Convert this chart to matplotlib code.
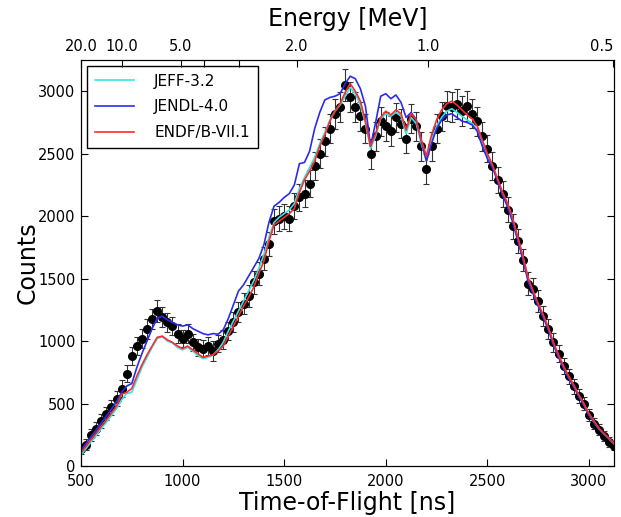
import numpy as np
import matplotlib
matplotlib.use('Agg')
import matplotlib.pyplot as plt

# time-of-flight bins [ns]
tof = np.arange(500, 3126, 25)

# measured counts and their uncertainties
counts = np.array([
    140, 170, 250, 300, 360, 420, 470, 540, 620, 740,
    880, 960, 1020, 1100, 1180, 1240, 1190, 1150, 1120, 1060,
    1020, 1060, 990, 950, 940, 960, 920, 980, 1010, 1080,
    1150, 1230, 1300, 1360, 1470, 1540, 1660, 1780, 1960, 1980,
    2000, 1980, 2080, 2150, 2180, 2260, 2400, 2500, 2600, 2700,
    2820, 2870, 3050, 2950, 2870, 2800, 2700, 2500, 2640, 2760,
    2720, 2680, 2790, 2740, 2620, 2780, 2720, 2560, 2380, 2560,
    2700, 2800, 2880, 2870, 2900, 2840, 2880, 2820, 2760, 2640,
    2540, 2400, 2290, 2180, 2050, 1920, 1800, 1650, 1460, 1420,
    1320, 1200, 1100, 990, 900, 800, 720, 640, 560, 500,
    410, 340, 290, 240, 190, 160])
errors = np.array([
    40, 45, 50, 50, 55, 55, 60, 60, 65, 70,
    70, 75, 75, 80, 80, 85, 80, 75, 75, 75,
    70, 75, 70, 70, 70, 75, 80, 70, 75, 75,
    80, 80, 85, 85, 90, 90, 95, 95, 100, 100,
    100, 100, 105, 105, 110, 110, 110, 115, 115, 115,
    120, 120, 130, 120, 120, 115, 115, 120, 115, 115,
    115, 120, 115, 115, 115, 115, 115, 115, 120, 115,
    115, 115, 120, 120, 120, 120, 120, 115, 115, 115,
    110, 110, 105, 105, 100, 100, 95, 90, 90, 85,
    85, 80, 80, 75, 70, 65, 60, 60, 55, 50,
    50, 45, 45, 40, 40, 35])

# simulated spectra
jeff = np.array([
    90, 140, 195, 245, 300, 350, 405, 460, 530, 580,
    590, 690, 790, 870, 950, 1020, 1035, 1000, 985, 950,
    930, 950, 920, 885, 860, 870, 890, 930, 990, 1080,
    1160, 1240, 1320, 1400, 1480, 1580, 1690, 1830, 1950, 1990,
    2020, 2050, 2100, 2220, 2310, 2390, 2470, 2580, 2670, 2770,
    2840, 2890, 2960, 3030, 2980, 2890, 2740, 2540, 2640, 2780,
    2820, 2800, 2830, 2800, 2660, 2790, 2740, 2580, 2440, 2610,
    2720, 2790, 2840, 2860, 2830, 2800, 2770, 2740, 2690, 2590,
    2490, 2400, 2290, 2180, 2090, 1970, 1820, 1670, 1500, 1390,
    1290, 1200, 1100, 980, 880, 790, 710, 640, 560, 490,
    410, 350, 295, 255, 215, 175])
jendl = np.array([
    125, 180, 235, 290, 345, 400, 455, 515, 590, 640,
    660, 790, 900, 1000, 1100, 1180, 1200, 1170, 1150, 1130,
    1120, 1130, 1100, 1080, 1060, 1050, 1060, 1055, 1090, 1180,
    1290, 1400, 1450, 1520, 1590, 1660, 1770, 1950, 2080, 2110,
    2150, 2180, 2250, 2420, 2430, 2520, 2700, 2830, 2930, 2950,
    2960, 2980, 3060, 3120, 3100, 3020, 2880, 2560, 2750, 2960,
    2980, 2940, 2970, 2910, 2790, 2830, 2770, 2600, 2440, 2580,
    2700, 2770, 2810, 2820, 2790, 2760, 2750, 2730, 2680, 2560,
    2460, 2390, 2280, 2170, 2070, 1950, 1800, 1650, 1480, 1380,
    1280, 1190, 1090, 970, 870, 785, 705, 635, 555, 490,
    410, 350, 295, 255, 215, 178])
endf = np.array([
    105, 160, 215, 265, 320, 370, 425, 480, 575, 590,
    620, 720, 810, 890, 960, 1030, 1040, 1010, 990, 960,
    940, 960, 930, 900, 870, 880, 890, 920, 960, 1040,
    1120, 1200, 1280, 1350, 1430, 1540, 1640, 1800, 1930, 1960,
    1990, 2020, 2060, 2190, 2290, 2360, 2440, 2560, 2650, 2760,
    2840, 2900, 2990, 3060, 3000, 2920, 2760, 2560, 2660, 2790,
    2840, 2810, 2850, 2820, 2690, 2820, 2770, 2610, 2480, 2650,
    2770, 2850, 2900, 2920, 2890, 2850, 2810, 2780, 2720, 2610,
    2500, 2410, 2300, 2190, 2100, 1980, 1830, 1680, 1510, 1400,
    1300, 1210, 1110, 990, 890, 800, 720, 650, 570, 500,
    420, 360, 300, 260, 220, 180])

# energy axis
energies = [20.0, 10.0, 5.0, 4.0, 3.0, 2.0, 1.0, 0.5]
energy_labels = ['20.0', '10.0', '5.0', '', '', '2.0', '1.0', '0.5']
flight_path = 30.5  # m


def tof_from_energy(e_mev):
    gamma = 1.0 + np.asarray(e_mev) / 939.565
    beta = np.sqrt(1.0 - 1.0 / gamma**2)
    return flight_path / (beta * 2.998e8) * 1e9


fig = plt.figure(figsize=(6.21, 5.17), dpi=100)
ax = fig.add_axes([0.1304, 0.0986, 0.8583, 0.7854])

ax.errorbar(tof, counts, yerr=errors, fmt='o', color='black', ms=5.5,
            ecolor='#333333', elinewidth=0.8, capsize=2.5, capthick=0.8, zorder=2)
ax.plot(tof, jeff, color='#33e6e6', lw=1.2, label='JEFF-3.2', zorder=3)
ax.plot(tof, jendl, color='#2b2bf0', lw=1.2, label='JENDL-4.0', zorder=3)
ax.plot(tof, endf, color='#ff2a2a', lw=1.2, label='ENDF/B-VII.1', zorder=4)

ax.set_xlim(500, 3123)
ax.set_ylim(0, 3250)
ax.set_xticks(np.arange(500, 3001, 500))
ax.set_yticks(np.arange(0, 3001, 500))
ax.set_xlabel('Time-of-Flight [ns]', fontsize=17, labelpad=1)
ax.set_ylabel('Counts', fontsize=17, labelpad=-1)

leg = ax.legend(loc='upper left', fancybox=False, edgecolor='black', framealpha=1,
                fontsize=11, handlelength=2.6, handletextpad=1.3, labelspacing=0.7,
                borderaxespad=0.4, borderpad=0.5)
leg.get_frame().set_linewidth(1.0)

top = ax.twiny()
top.set_xlim(ax.get_xlim())
top.set_xticks(tof_from_energy(energies))
top.set_xticklabels(energy_labels)
top.get_xticklabels()[-1].set_horizontalalignment('right')
top.set_xlabel('Energy [MeV]', fontsize=17, labelpad=10)
top.tick_params(direction='in', length=5, labelsize=10.5, pad=4)

ax.tick_params(direction='in', length=5, labelsize=10.5, top=False, right=True, pad=4)
ax.tick_params(axis='x', pad=6)

fig.savefig('out.png', dpi=100)
